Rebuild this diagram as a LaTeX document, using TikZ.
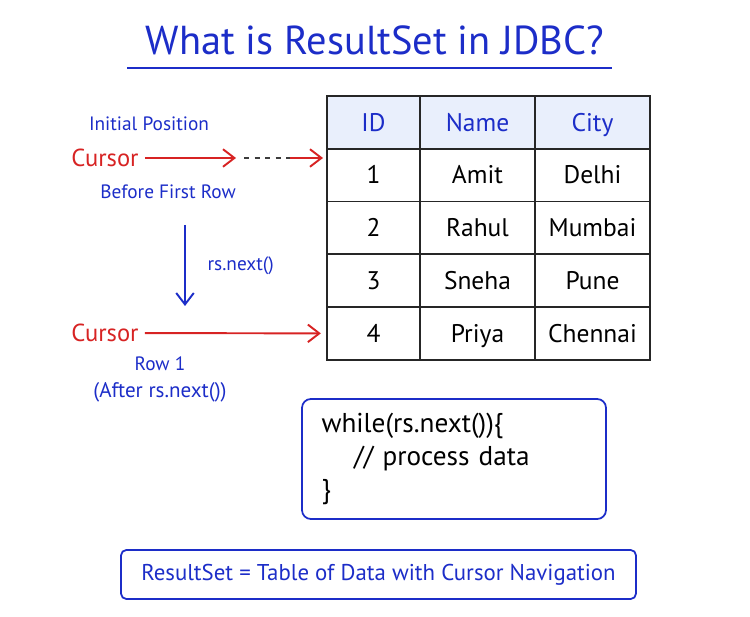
\documentclass[tikz,border=0pt]{standalone}
\usepackage{fontspec}
\setmainfont{PT Sans}
\usetikzlibrary{arrows.meta}
\definecolor{rsblue}{RGB}{28,45,200}
\definecolor{rsred}{RGB}{215,35,35}
\definecolor{headfill}{RGB}{233,239,252}
\definecolor{dashgray}{RGB}{60,60,60}
\begin{document}
\begin{tikzpicture}[x=0.02cm,y=-0.02cm,>={Straight Barb[length=6.5pt,width=10pt]},
  cell/.style={draw=black!85,line width=1pt,minimum height=1.055cm,text height=11pt,text depth=1pt,
    font=\fontsize{14.5}{16}\selectfont},
  lbl/.style={text=rsblue,font=\fontsize{11}{13}\selectfont},
  cur/.style={text=rsred,font=\fontsize{14}{16}\selectfont},
  redarr/.style={->,rsred,line width=1.1pt}]
\useasboundingbox (0,0) rectangle (750,617);
\node[text=rsblue,font=\fontsize{23}{27}\selectfont] (T) at (375,40) {What is ResultSet in JDBC?};
\draw[rsblue,line width=1.3pt] (127,68) -- (612,68);
% table
\node[cell,fill=headfill,text=rsblue,minimum width=1.86cm] (id0) at (373.5,122.4) {ID};
\node[cell,fill=headfill,text=rsblue,minimum width=2.3cm] (nm0) at (477.5,122.4) {Name};
\node[cell,fill=headfill,text=rsblue,minimum width=2.3cm] (ct0) at (592.5,122.4) {City};
\foreach \num/\who/\town [count=\r] in {1/Amit/Delhi,2/Rahul/Mumbai,3/Sneha/Pune,4/Priya/Chennai}{
  \node[cell,minimum width=1.86cm] (id\r) at (373.5,{122.4+52.75*\r}) {\num};
  \node[cell,minimum width=2.3cm] (nm\r) at (477.5,{122.4+52.75*\r}) {\who};
  \node[cell,minimum width=2.3cm] (ct\r) at (592.5,{122.4+52.75*\r}) {\town};
}
% cursor before first row
\node[lbl] (IP) at (149,124) {Initial Position};
\node[cur] (C1) at (105,158) {Cursor};
\node[lbl] (BF) at (168,192) {Before First Row};
\coordinate (A1) at (236,158);
\coordinate (A2) at (244,158);
\coordinate (A3) at (290,158);
\coordinate (A4) at (323,158);
\draw[redarr] (C1) -- (A1);
\draw[dashgray,dashed,line width=0.9pt] (A2) -- (A3);
\draw[redarr] (A3) -- (A4);
% next()
\coordinate (N1) at (185,225);
\coordinate (N2) at (185,306);
\draw[->,rsblue,line width=1.1pt] (N1) -- node[lbl,right=9pt] (RN) {rs.next()} (N2);
% cursor on row
\node[cur] (C2) at (105,333) {Cursor};
\draw[redarr,shorten >=3pt] (C2) -- (id4.west);
\node[lbl] (R1) at (160,364) {Row 1};
\node[lbl,font=\fontsize{12}{14}\selectfont] (AR) at (160,392) {(After rs.next())};
% loop
\node[draw=rsblue,line width=1pt,rounded corners=5pt,minimum width=6.08cm,minimum height=2.4cm,
  text width=5.3cm,inner xsep=0.39cm,align=left,font=\fontsize{15.5}{19}\selectfont] (W) at (454,459)
  {while(rs.next())\{\\\hspace*{1.2em}// process data\\\}};
\node[draw=rsblue,line width=1pt,rounded corners=3pt,minimum width=10.3cm,minimum height=0.98cm,
  text=rsblue,font=\fontsize{13}{15}\selectfont] (S) at (378.5,574.5)
  {ResultSet = Table of Data with Cursor Navigation};
\end{tikzpicture}
\end{document}
